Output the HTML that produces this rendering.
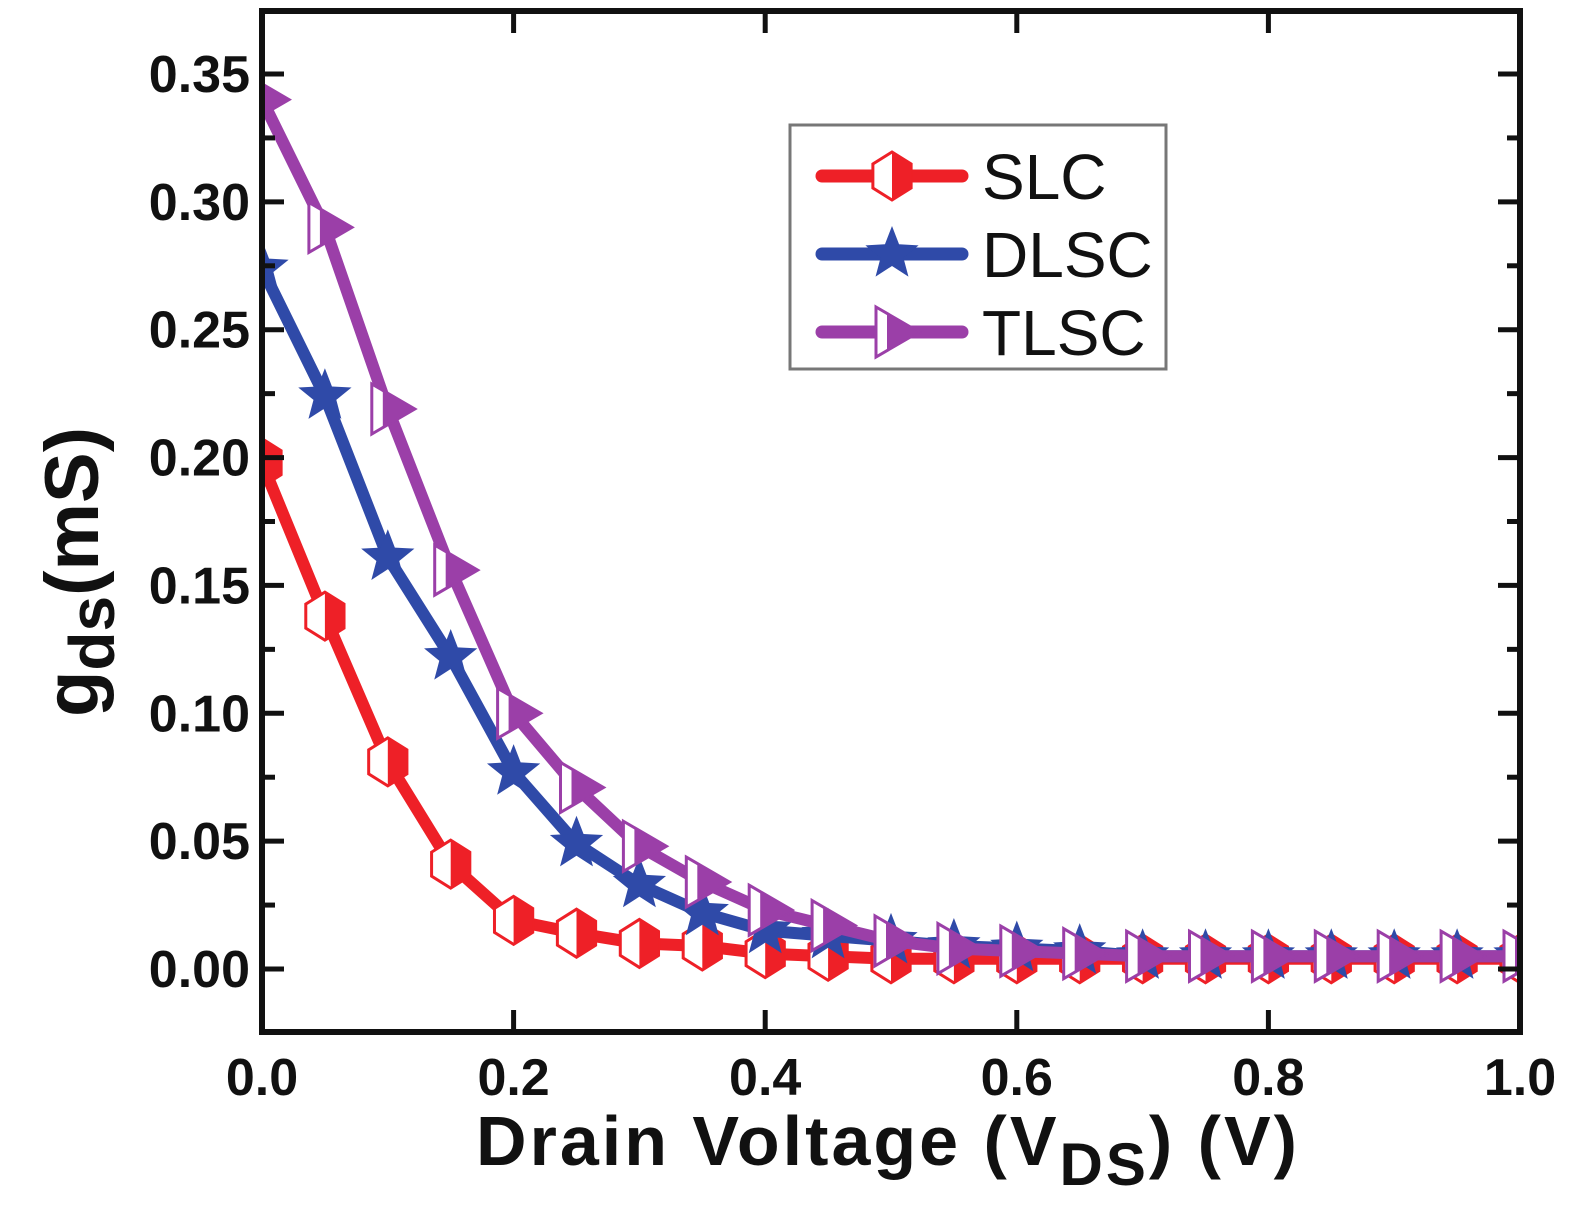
<!DOCTYPE html>
<html><head><meta charset="utf-8"><style>
html,body{margin:0;padding:0;background:#fff;}
svg{display:block;font-family:"Liberation Sans",Arial,sans-serif;}
</style></head><body>
<svg id="chart" width="1575" height="1213" viewBox="0 0 1575 1213" xmlns="http://www.w3.org/2000/svg">
<defs><clipPath id="plotclip"><rect x="262" y="11" width="1258" height="1021"/></clipPath></defs>
<g id="series" clip-path="url(#plotclip)"></g>
<rect x="262" y="11" width="1258" height="1021" fill="none" stroke="#111" stroke-width="6"/>
<g id="ticks"></g>
<text x="888" y="1165" text-anchor="middle" font-size="70" font-weight="bold" letter-spacing="3" fill="#111">Drain Voltage (V<tspan font-size="60" dy="20">DS</tspan><tspan dy="-20">) (V)</tspan></text>
<text transform="translate(98,572) rotate(-90)" text-anchor="middle" font-size="76" font-weight="bold" fill="#111">g<tspan font-size="64" dy="16">ds</tspan><tspan dy="-16">(mS)</tspan></text>
<g>
<rect x="790" y="125" width="376" height="244" fill="#fff" stroke="#777" stroke-width="3"/>
<g id="legend-items"></g>
</g>
</svg>
<script>
const xVals=[0,0.05,0.1,0.15,0.2,0.25,0.3,0.35,0.4,0.45,0.5,0.55,0.6,0.65,0.7,0.75,0.8,0.85,0.9,0.95,1.0];
const slc=[0.198,0.138,0.081,0.041,0.019,0.014,0.010,0.009,0.006,0.005,0.004,0.004,0.004,0.004,0.004,0.004,0.004,0.004,0.004,0.004,0.004];
const dlsc=[0.274,0.224,0.161,0.122,0.077,0.049,0.033,0.022,0.015,0.013,0.011,0.009,0.008,0.007,0.005,0.005,0.005,0.005,0.005,0.005,0.005];
const tlsc=[0.340,0.290,0.219,0.156,0.100,0.071,0.048,0.034,0.023,0.017,0.011,0.008,0.007,0.006,0.005,0.005,0.005,0.005,0.005,0.005,0.005];
const xTicks=["0.0","0.2","0.4","0.6","0.8","1.0"];
const yTicks=["0.00","0.05","0.10","0.15","0.20","0.25","0.30","0.35"];
const seriesNames=["SLC","DLSC","TLSC"];
const NS="http://www.w3.org/2000/svg";
const X=v=>262+v*1258;
const Y=v=>969-v*(969-74)/0.35;
function mk(tag,attrs,parent){const e=document.createElementNS(NS,tag);for(const k in attrs)e.setAttribute(k,attrs[k]);parent.appendChild(e);return e;}
const ticks=document.getElementById('ticks');
xTicks.forEach(t=>{const v=parseFloat(t),x=X(v);
 mk('line',{x1:x,y1:1032,x2:x,y2:1010,stroke:'#111','stroke-width':5},ticks);
 mk('line',{x1:x,y1:11,x2:x,y2:33,stroke:'#111','stroke-width':5},ticks);
 const tx=mk('text',{x:x,y:1095,'text-anchor':'middle','font-size':52,'font-weight':'bold',fill:'#111'},ticks);tx.textContent=t;
 
 
});
for(let v=-0.025;v<=0.3751;v+=0.025){const y=Y(v);if(y<11||y>1032)continue;const major=Math.abs(Math.round(v/0.05)*0.05-v)<1e-6;const L=major?22:13;
 mk('line',{x1:262,y1:y,x2:262+L,y2:y,stroke:'#111','stroke-width':5},ticks);
 mk('line',{x1:1520,y1:y,x2:1520-L,y2:y,stroke:'#111','stroke-width':5},ticks);}
yTicks.forEach(t=>{const y=Y(parseFloat(t));
 const tx=mk('text',{x:250,y:y+18,'text-anchor':'end','font-size':52,'font-weight':'bold',fill:'#111'},ticks);tx.textContent=t;
 
 
});
const colors=["#ee2027","#2f4aa8","#9b3fa8"];
function marker(kind,cx,cy,col,g){
 if(kind===0){const r=24,pts=[];for(let i=0;i<6;i++){const a=Math.PI/6+i*Math.PI/3;pts.push([cx+r*Math.cos(a)*0.92,cy+r*Math.sin(a)]);}
  mk('polygon',{points:pts.map(p=>p.join(',')).join(' '),fill:'#fff',stroke:col,'stroke-width':3},g);
  const half=[[cx,cy-r],[pts[5][0],pts[5][1]],[pts[0][0],pts[0][1]],[cx,cy+r]];
  mk('polygon',{points:half.map(p=>p.join(',')).join(' '),fill:col},g);}
 else if(kind===1){const pts=[];for(let i=0;i<10;i++){const r=i%2?12:28,a=-Math.PI/2+i*Math.PI/5;pts.push((cx+r*Math.cos(a))+','+(cy+r*Math.sin(a)));}
  mk('polygon',{points:pts.join(' '),fill:col},g);}
 else{mk('polygon',{points:`${cx-16},${cy-25} ${cx+27},${cy} ${cx-16},${cy+25}`,fill:'#fff',stroke:col,'stroke-width':3},g);
  mk('polygon',{points:`${cx-5},${cy-18} ${cx+27},${cy} ${cx-5},${cy+18}`,fill:col},g);}
}
const sg=document.getElementById('series');
[slc,dlsc,tlsc].forEach((data,si)=>{
 const g=mk('g',{},sg);
 
 
 mk('polyline',{points:data.map((v,i)=>X(xVals[i])+','+Y(v)).join(' '),fill:'none',stroke:colors[si],'stroke-width':12,'stroke-linejoin':'round'},g);
 data.forEach((v,i)=>marker(si,X(xVals[i]),Y(v),colors[si],g));
});
const lg=document.getElementById('legend-items');
seriesNames.forEach((n,i)=>{const y=176+i*78;
 const g=mk('g',{},lg);
 
 
 mk('line',{x1:822,y1:y,x2:962,y2:y,stroke:colors[i],'stroke-width':13,'stroke-linecap':'round'},g);
 marker(i,892,y,colors[i],g);
 const t=mk('text',{x:982,y:y+23,'font-size':64,fill:'#111'},g);t.textContent=n;});
</script>
</body></html>
